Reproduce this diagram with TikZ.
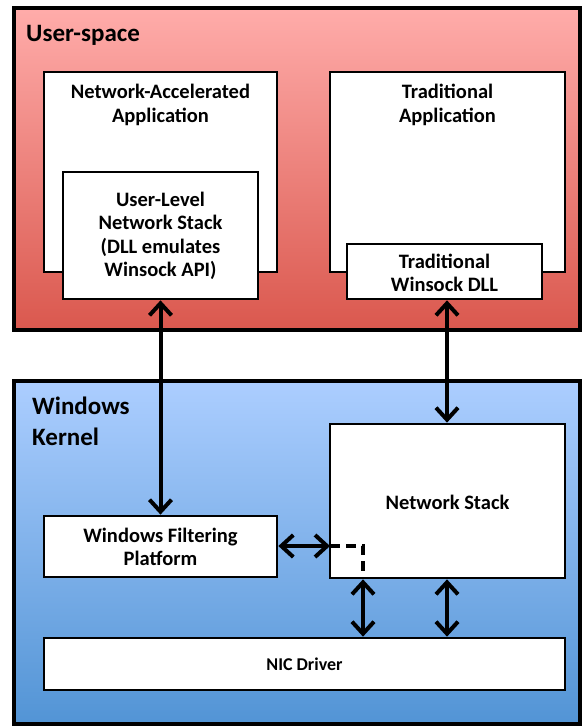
\documentclass[tikz,border=0pt]{standalone}
\usepackage{fontspec}
\setmainfont{Carlito}
\usetikzlibrary{arrows.meta}
\definecolor{redtop}{RGB}{255,172,170}
\definecolor{redbot}{RGB}{218,88,78}
\definecolor{bluetop}{RGB}{172,206,255}
\definecolor{bluebot}{RGB}{82,148,213}
\tikzset{
  region/.style={draw=black, line width=4pt, minimum width=566pt, inner sep=0pt},
  box/.style={draw=black, fill=white, line width=2.7pt, inner sep=0pt},
  txt/.style={font=\bfseries\fontsize{20.5}{23.5}\selectfont, align=center, inner sep=0pt},
  big/.style={font=\bfseries\fontsize{25}{31}\selectfont, align=left, inner sep=0pt},
  tipb/.tip={Straight Barb[length=12pt,width=22pt,line width=4pt]},
  dbl/.style={line width=4pt, tipb-tipb},
  dsh/.style={line width=4pt, dash pattern=on 10pt off 6pt}
}
\begin{document}
\begin{tikzpicture}[x=1pt,y=-1pt]
\useasboundingbox (0,0) rectangle (582,727);
% regions
\node[region, minimum height=322pt, top color=redtop, bottom color=redbot] (user) at (297,169) {};
\node[region, minimum height=343pt, top color=bluetop, bottom color=bluebot] (kern) at (297,552.5) {};
\node[big, anchor=base west] (userlbl) at (26,42) {User-space};
\node[big, anchor=base west] (kernlbl) at (32,445) {Windows\\Kernel};
% user-space boxes
\node[box, minimum width=233pt, minimum height=200pt] (napp) at (160.5,172) {};
\node[txt] (napplbl) at (160.5,105) {Network-Accelerated\\Application};
\node[box, minimum width=195pt, minimum height=127pt] (ul) at (160.5,235.5) {};
\node[txt] (ullbl) at (160.5,236) {User-Level\\Network Stack\\(DLL emulates\\Winsock API)};
\node[box, minimum width=235pt, minimum height=200pt] (tapp) at (447.5,172) {};
\node[txt] (tapplbl) at (447.5,105) {Traditional\\Application};
\node[box, minimum width=195pt, minimum height=55pt] (dll) at (444.5,271.5) {};
\node[txt] (dlllbl) at (444.5,273) {Traditional\\Winsock DLL};
% kernel boxes
\node[box, minimum width=235pt, minimum height=154pt] (ns) at (447.5,501) {};
\node[txt] (nslbl) at (447.5,502) {Network Stack};
\node[box, minimum width=233pt, minimum height=61pt] (wfp) at (160.5,546.5) {};
\node[txt] (wfplbl) at (160.5,547) {Windows Filtering\\Platform};
\node[box, minimum width=521pt, minimum height=52pt] (nic) at (304.5,664) {};
\node[txt, font=\bfseries\fontsize{18}{21}\selectfont] (niclbl) at (304.5,664) {NIC Driver};
% connectors
\coordinate (hp) at (330,546);
\coordinate (dc) at (363,546);
\coordinate (rx) at (447,0);
\draw[dbl] (ul.south) -- (ul.south |- wfp.north);
\draw[dbl] (dll.south -| rx) -- (ns.north -| rx);
\draw[dbl] (wfp.east |- hp) -- (hp);
\draw[dsh] (hp) -- (dc) -- (dc |- ns.south);
\draw[dbl] (dc |- ns.south) -- (dc |- nic.north);
\draw[dbl] (ns.south -| rx) -- (nic.north -| rx);
\end{tikzpicture}
\end{document}
